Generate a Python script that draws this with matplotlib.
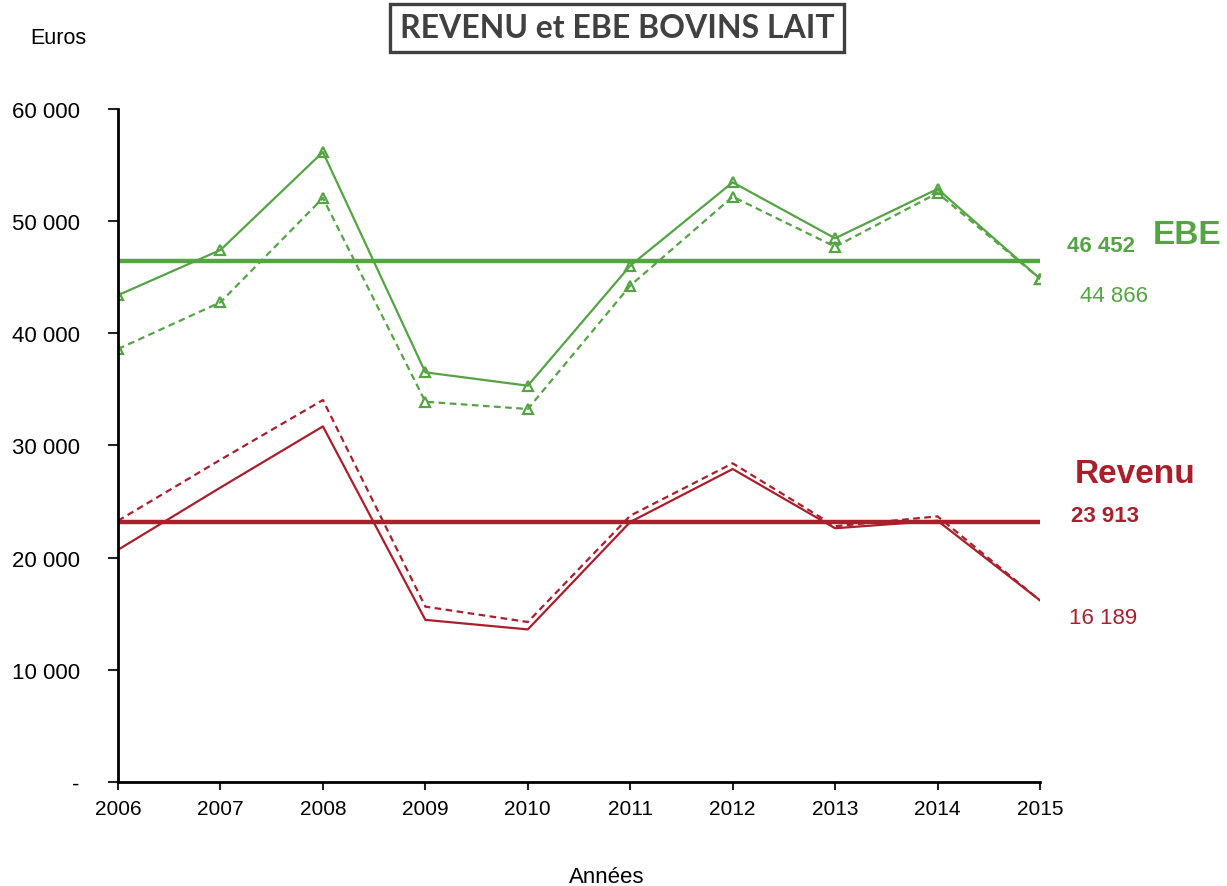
import matplotlib.pyplot as plt
from matplotlib.ticker import FuncFormatter

plt.rcParams["font.family"] = ["Liberation Sans", "DejaVu Sans"]

years = [2006, 2007, 2008, 2009, 2010, 2011, 2012, 2013, 2014, 2015]
ebe = [43400, 47430, 56160, 36520, 35330, 46030, 53460, 48470, 52870, 44866]
ebe_dash = [38600, 42770, 52060, 33900, 33250, 44250, 52180, 47720, 52510, 44866]
revenu = [20700, 26250, 31700, 14450, 13600, 23180, 27900, 22620, 23290, 16189]
revenu_dash = [23290, 28730, 34050, 15630, 14260, 23740, 28410, 22800, 23680, 16189]
ebe_ref = 46452
revenu_ref = 23150
ebe_ref_label = "46 452"
revenu_ref_label = "23 913"
ebe_last_label = "44 866"
revenu_last_label = "16 189"

GREEN = "#55a444"
RED = "#a91f2c"

fig = plt.figure(figsize=(12.27, 8.87), dpi=100)
ax = fig.add_axes([0.0962, 0.1173, 0.7514, 0.7587])

ax.plot(years, ebe, color=GREEN, lw=1.6, marker="^", ms=7, mfc="none", mew=1.6)
ax.plot(years, ebe_dash, color=GREEN, lw=1.6, ls=(0, (3, 2)), marker="^", ms=7, mfc="none", mew=1.6)
ax.plot(years, revenu, color=RED, lw=1.6)
ax.plot(years, revenu_dash, color=RED, lw=1.6, ls=(0, (3, 2)))
ax.plot([years[0], years[-1]], [ebe_ref, ebe_ref], color=GREEN, lw=3.2)
ax.plot([years[0], years[-1]], [revenu_ref, revenu_ref], color=RED, lw=3.2)

ax.set_xlim(2006, 2015)
ax.set_ylim(0, 60000)
ax.set_xticks(years)
ax.set_yticks(range(0, 60001, 10000))
ax.yaxis.set_major_formatter(FuncFormatter(lambda v, p: "-" if v == 0 else f"{int(v):,}".replace(",", " ")))
ax.tick_params(axis="both", direction="out", width=1.5, color="#222222")
ax.tick_params(axis="x", labelsize=15, length=6, pad=6)
ax.tick_params(axis="y", labelsize=16, length=7.5, pad=20)
for s in ["top", "right"]:
    ax.spines[s].set_visible(False)
for s in ["left", "bottom"]:
    ax.spines[s].set_linewidth(2)

fig.text(30 / 1227, 1 - 38 / 887, "Euros", fontsize=15.5, va="center", ha="left")
fig.text(607 / 1227, 1 - 878 / 887, "Années", fontsize=16, va="center", ha="center")

fig.text(617 / 1227, 1 - 29 / 887, "REVENU et EBE BOVINS LAIT", fontsize=23, fontweight="bold",
         family="Lato", color="#404040", ha="center", va="center",
         bbox=dict(boxstyle="square,pad=0.3", fc="white", ec="#404040", lw=2.4))

fig.text(1153 / 1227, 1 - 236 / 887, "EBE", fontsize=24, fontweight="bold", color=GREEN, ha="left", va="center")
fig.text(1067 / 1227, 1 - 247 / 887, ebe_ref_label, fontsize=16, fontweight="bold", color=GREEN, ha="left", va="center")
fig.text(1080 / 1227, 1 - 297 / 887, ebe_last_label, fontsize=16, color=GREEN, ha="left", va="center")
fig.text(1075 / 1227, 1 - 475 / 887, "Revenu", fontsize=24, fontweight="bold", color=RED, ha="left", va="center")
fig.text(1071 / 1227, 1 - 517 / 887, revenu_ref_label, fontsize=16, fontweight="bold", color=RED, ha="left", va="center")
fig.text(1069 / 1227, 1 - 619 / 887, revenu_last_label, fontsize=16, color=RED, ha="left", va="center")

fig.savefig("out.png", dpi=100)
